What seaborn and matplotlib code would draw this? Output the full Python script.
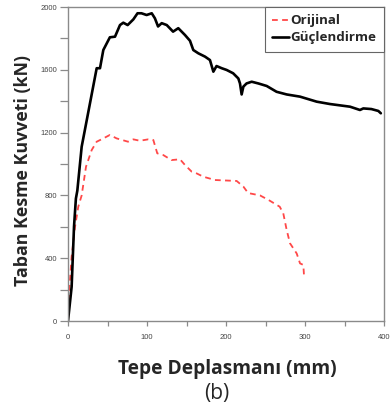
import matplotlib
matplotlib.use("Agg")
import matplotlib.pyplot as plt
import seaborn as sns
import pandas as pd
from matplotlib.ticker import MultipleLocator

# Data
guc_x = [0, 4.6, 7.6, 10, 11.8, 17.3, 27, 36.3, 40.5, 44.7, 53, 59.5, 65.8, 70, 75.5, 82.7, 88, 93,
         99.5, 106, 110, 114, 118.6, 125, 133, 139.6, 148, 154.4, 158.6, 165, 173.4, 179.7, 184, 188,
         194.6, 200.8, 209, 215.6, 217.7, 219.8, 222, 226, 232.5, 241, 251.5, 264, 276.8, 293.7,
         314.8, 331.6, 357, 369.6, 373.8, 384, 392.8, 396]
guc_y = [0, 218, 600, 780, 830, 1110, 1365, 1610, 1610, 1726, 1807, 1811, 1885, 1900, 1885, 1921, 1960, 1960,
         1949, 1960, 1928, 1876, 1897, 1885, 1843, 1865, 1822, 1785, 1726, 1705, 1684, 1662, 1588, 1624,
         1610, 1599, 1578, 1545, 1513, 1443, 1493, 1513, 1524, 1513, 1497, 1460, 1443, 1429,
         1397, 1382, 1365, 1344, 1354, 1350, 1338, 1323]
ori_x = [0, 1.3, 4.6, 8.9, 13, 17.3, 22.8, 30, 36.3, 44.7, 53, 61.6, 76, 82.7, 91, 101.6, 108, 113,
         120.6, 131, 141.8, 148, 156.6, 162.9, 171.3, 186, 213.5, 222, 228, 243, 253.5, 268, 272.5,
         276.8, 281, 289.5, 293.7, 297.9, 298.7]
ori_y = [0, 176, 410, 600, 728, 800, 983, 1089, 1142, 1163, 1185, 1163, 1142, 1157, 1148, 1157, 1153, 1068,
         1057, 1025, 1030, 994, 951, 940, 919, 898, 892, 856, 815, 800, 772, 728, 686,
         580, 495, 430, 367, 357, 293]
series_names = ["Orijinal", "Güçlendirme"]
x_ticks = [0, 100, 200, 300, 400]
y_ticks = [0, 400, 800, 1200, 1600, 2000]

sns.set_style("ticks")
plt.rcParams['font.family'] = ['Open Sans', 'DejaVu Sans']

fig = plt.figure(figsize=(3.92, 4.12), dpi=100)
ax = fig.add_axes([68/392, 1-321/412, (384-68)/392, (321-7)/412])

df_o = pd.DataFrame({"x": ori_x, "y": ori_y})
df_g = pd.DataFrame({"x": guc_x, "y": guc_y})
sns.lineplot(data=df_o, x="x", y="y", ax=ax, sort=False, color="#ff4848",
             linestyle=(0, (3.2, 2.4)), linewidth=1.3, label=series_names[0])
sns.lineplot(data=df_g, x="x", y="y", ax=ax, sort=False, color="black",
             linewidth=1.9, label=series_names[1])

ax.set_xlim(0, 400)
ax.set_ylim(0, 2000)
ax.set_xticks(x_ticks)
ax.set_yticks(y_ticks)
ax.xaxis.set_minor_locator(MultipleLocator(50))
ax.yaxis.set_minor_locator(MultipleLocator(200))
for s in ax.spines.values():
    s.set_color("#8a8a8a")
    s.set_linewidth(1.0)
ax.tick_params(axis="both", which="both", colors="#8a8a8a", labelcolor="#444444",
               labelsize=5.5, width=0.9)
ax.tick_params(axis="y", which="both", length=6, pad=2)
ax.tick_params(axis="x", which="both", length=3.5, pad=6)
for lab in ax.get_xticklabels() + ax.get_yticklabels():
    lab.set_family(["Liberation Sans", "DejaVu Sans"])

ax.set_xlabel("")
ax.set_ylabel("")
fig.text(227/392, 1-369/412, "Tepe Deplasmanı (mm)", ha="center", va="center",
         fontsize=13.8, fontweight="bold")
fig.text(217/392, 1-393/412, "(b)", ha="center", va="center", fontsize=15)
fig.text(23/392, 1-171/412, "Taban Kesme Kuvveti (kN)", ha="center", va="center",
         rotation=90, fontsize=12.8, fontweight="bold")

leg = ax.legend(loc="upper right", borderaxespad=0, frameon=True, fancybox=False,
                handlelength=1.3, handletextpad=0.1, borderpad=0.55, labelspacing=0.3,
                prop={"family": "Open Sans", "weight": "bold", "size": 9.6})
leg.get_frame().set_edgecolor("#666666")
leg.get_frame().set_linewidth(0.8)
leg.get_frame().set_alpha(1)

fig.savefig("out.png", dpi=100, facecolor="white")
